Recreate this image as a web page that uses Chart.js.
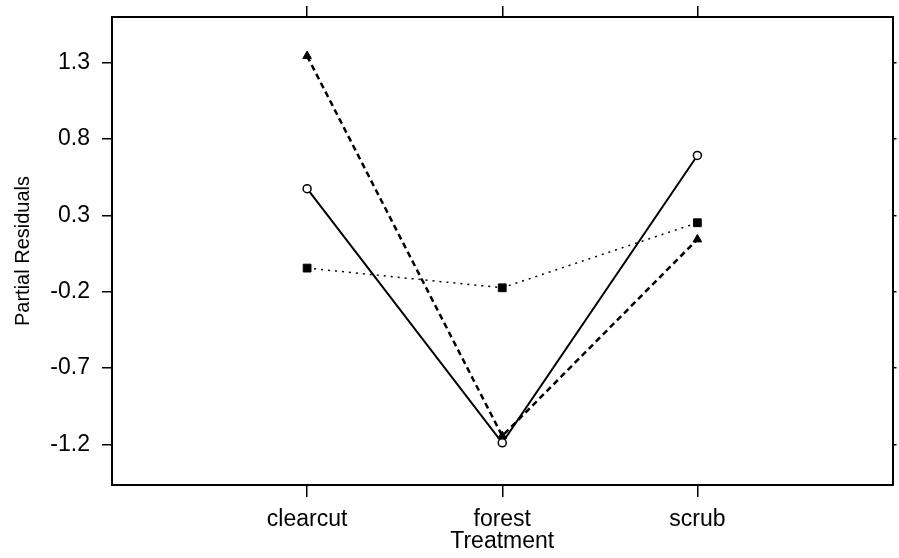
<!DOCTYPE html>
<html>
<head>
<meta charset="utf-8">
<script src="https://cdn.jsdelivr.net/npm/chart.js@4"></script>
<style>
  html, body { margin: 0; padding: 0; background: #fff; }
  #wrap { width: 899px; height: 558px; }
</style>
</head>
<body>
<div id="wrap"><canvas id="residualsChart" width="899" height="558"></canvas></div>
<script>
// treatment categories (placed at x = 1, 2, 3)
const treatments = ['clearcut', 'forest', 'scrub'];
const treatmentPos = [1, 2, 3];

// partial residuals
const triangleSeries = [1.344, -1.145, 0.143];
const circleSeries = [0.475, -1.19, 0.693];
const squareSeries = [-0.045, -0.174, 0.252];

// y axis tick values
const yTicks = [1.3, 0.8, 0.3, -0.2, -0.7, -1.2];

function toPoints(vals) {
    return vals.map((v, i) => ({ x: treatmentPos[i], y: v }));
}

const FONT = 'Liberation Sans, Arial, sans-serif';

const ctx = document.getElementById('residualsChart');

new Chart(ctx, {
    type: 'line',
    data: {
        datasets: [{
            label: 'triangle',
            data: toPoints(triangleSeries),
            borderColor: '#000',
            borderWidth: 2.5,
            borderDash: [6, 4],
            pointStyle: 'triangle',
            pointRadius: 5,
            pointBackgroundColor: '#000',
            pointBorderColor: '#000',
            pointBorderWidth: 1,
            tension: 0
        }, {
            label: 'circle',
            data: toPoints(circleSeries),
            borderColor: '#000',
            borderWidth: 2,
            pointStyle: 'circle',
            pointRadius: 4,
            pointBackgroundColor: '#fff',
            pointBorderColor: '#000',
            pointBorderWidth: 1.5,
            tension: 0
        }, {
            label: 'square',
            data: toPoints(squareSeries),
            borderColor: '#000',
            borderWidth: 1.5,
            borderDash: [2, 5],
            pointStyle: 'rect',
            pointRadius: 5.5,
            pointBackgroundColor: '#000',
            pointBorderColor: '#000',
            pointBorderWidth: 1,
            tension: 0
        }]
    },
    options: {
        responsive: false,
        animation: false,
        layout: { padding: 0 },
        plugins: {
            legend: { display: false },
            tooltip: { enabled: false }
        },
        scales: {
            x: {
                type: 'linear',
                position: 'bottom',
                min: 0,
                max: 4,
                afterBuildTicks: (scale) => {
                    scale.ticks = treatmentPos.map(v => ({ value: v }));
                },
                afterFit: (scale) => {
                    scale.height = 73;
                    scale.paddingLeft = 0;
                    scale.paddingRight = 0;
                },
                ticks: {
                    color: '#000',
                    font: { family: FONT, size: 23 },
                    padding: 9,
                    maxRotation: 0,
                    callback: (v) => treatments[treatmentPos.indexOf(v)]
                },
                grid: {
                    drawOnChartArea: false,
                    drawTicks: true,
                    tickLength: 12,
                    color: '#000',
                    lineWidth: 1.5
                },
                border: { display: true, color: '#000', width: 2 },
                title: {
                    display: true,
                    text: 'Treatment',
                    color: '#000',
                    font: { family: FONT, size: 23 },
                    padding: { top: 0, bottom: 3 }
                }
            },
            xTop: {
                type: 'linear',
                position: 'top',
                min: 0,
                max: 4,
                afterBuildTicks: (scale) => {
                    scale.ticks = treatmentPos.map(v => ({ value: v }));
                },
                afterFit: (scale) => {
                    scale.height = 17;
                    scale.paddingLeft = 0;
                    scale.paddingRight = 0;
                },
                ticks: { display: false },
                grid: {
                    drawOnChartArea: false,
                    drawTicks: true,
                    tickLength: 11,
                    color: '#000',
                    lineWidth: 1.5
                },
                border: { display: true, color: '#000', width: 2 }
            },
            y: {
                type: 'linear',
                position: 'left',
                min: -1.466,
                max: 1.6,
                afterBuildTicks: (scale) => {
                    scale.ticks = yTicks.map(v => ({ value: v }));
                },
                afterFit: (scale) => {
                    scale.width = 112;
                    scale.paddingTop = 0;
                    scale.paddingBottom = 0;
                },
                ticks: {
                    color: '#000',
                    font: { family: FONT, size: 23 },
                    padding: 12,
                    callback: (v) => v.toFixed(1)
                },
                grid: {
                    drawOnChartArea: false,
                    drawTicks: true,
                    tickLength: 10,
                    color: '#000',
                    lineWidth: 1.5
                },
                border: { display: true, color: '#000', width: 2 },
                title: {
                    display: true,
                    text: 'Partial Residuals',
                    color: '#000',
                    font: { family: FONT, size: 20 },
                    padding: { top: 11, bottom: 0 }
                }
            },
            yRight: {
                type: 'linear',
                position: 'right',
                min: -1.466,
                max: 1.6,
                afterBuildTicks: (scale) => {
                    scale.ticks = yTicks.map(v => ({ value: v }));
                },
                afterFit: (scale) => {
                    scale.width = 4;
                    scale.paddingTop = 0;
                    scale.paddingBottom = 0;
                },
                ticks: { display: false },
                grid: {
                    drawOnChartArea: false,
                    drawTicks: true,
                    tickLength: 4,
                    color: '#000',
                    lineWidth: 1.5
                },
                border: { display: true, color: '#000', width: 2 }
            }
        }
    }
});
</script>
</body>
</html>
